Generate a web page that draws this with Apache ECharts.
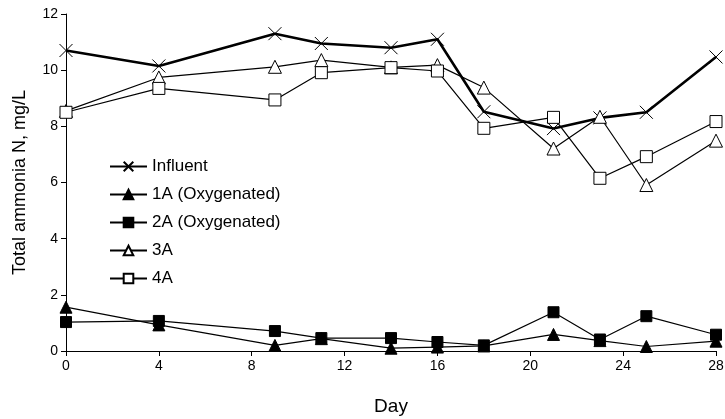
<!DOCTYPE html>
<html>
<head>
<meta charset="utf-8">
<script src="https://cdn.jsdelivr.net/npm/echarts@6/dist/echarts.min.js"></script>
<style>
  html, body { margin: 0; padding: 0; background: #fff; }
  #chart { width: 725px; height: 419px; }
</style>
</head>
<body>
<div id="chart"></div>
<script>
// days sampled
const days = [0, 4, 9, 11, 14, 16, 18, 21, 23, 25, 28]
const influent = [10.7, 10.15, 11.3, 10.95, 10.8, 11.1, 8.52, 7.92, 8.3, 8.5, 10.47]
const oxy1A = [1.56, 0.93, 0.2, 0.44, 0.1, 0.14, 0.18, 0.59, 0.37, 0.16, 0.35]
const oxy2A = [1.03, 1.07, 0.71, 0.46, 0.46, 0.32, 0.2, 1.38, 0.41, 1.24, 0.58]
const r3A = [8.55, 9.74, 10.12, 10.36, 10.1, 10.18, 9.38, 7.21, 8.34, 5.91, 7.49]
const r4A = [8.5, 9.35, 8.94, 9.91, 10.09, 9.97, 7.93, 8.32, 6.15, 6.92, 8.17]

const xTicks = [0, 4, 8, 12, 16, 20, 24, 28]
const yTicks = [0, 2, 4, 6, 8, 10, 12]

const pair = (ys) => days.map((d, i) => [d, ys[i]])

const crossPath = 'path://M0,0L10,10M10,0L0,10'
const fontFamily = '"Liberation Sans", Arial, sans-serif'
const narrow = '"Liberation Sans Narrow", "Arial Narrow", "Liberation Sans", sans-serif'

const chart = echarts.init(document.getElementById('chart'))

const mkSeries = (name, ys, symbol, size, fill, width) => ({
  name,
  type: 'line',
  data: pair(ys),
  symbol,
  symbolSize: size,
  showAllSymbol: true,
  animation: false,
  lineStyle: { color: '#000', width },
  itemStyle: { color: fill, borderColor: '#000', borderWidth: 1 },
  emphasis: { disabled: true }
})

chart.setOption({
  backgroundColor: '#fff',
  textStyle: { fontFamily },
  legend: {
    orient: 'vertical',
    left: 104,
    top: 153,
    itemGap: 11,
    itemWidth: 37,
    itemHeight: 12,
    textStyle: { fontFamily, fontSize: 17, color: '#000' },
    data: ['Influent', '1A (Oxygenated)', '2A (Oxygenated)', '3A', '4A']
  },
  grid: { left: 66, right: 9, top: 14, bottom: 68, outerBoundsMode: 'none', containLabel: false },
  xAxis: {
    type: 'value',
    min: 0,
    max: 28,
    interval: 4,
    name: 'Day',
    nameLocation: 'middle',
    nameGap: 46,
    nameTextStyle: { fontFamily, fontSize: 19, color: '#000' },
    axisLine: { lineStyle: { color: '#000', width: 1 } },
    axisTick: { show: true, length: 5, lineStyle: { color: '#000' } },
    axisLabel: {
      color: '#000', fontSize: 14, margin: 8, fontFamily: narrow,
      formatter: (v) => xTicks.includes(v) ? String(v) : ''
    },
    splitLine: { show: false }
  },
  yAxis: {
    type: 'value',
    min: 0,
    max: 12,
    interval: 2,
    name: 'Total ammonia N, mg/L',
    nameLocation: 'middle',
    nameGap: 37,
    nameRotate: 90,
    nameTextStyle: { fontFamily, fontSize: 18, color: '#000' },
    axisLine: { show: true, lineStyle: { color: '#000', width: 1 } },
    axisTick: { show: true, length: 5, lineStyle: { color: '#000' } },
    axisLabel: {
      color: '#000', fontSize: 14, margin: 8, fontFamily: narrow,
      formatter: (v) => yTicks.includes(v) ? String(v) : ''
    },
    splitLine: { show: false }
  },
  series: [
    mkSeries('Influent', influent, crossPath, 13, 'none', 2.6),
    mkSeries('1A (Oxygenated)', oxy1A, 'triangle', 12, '#000', 1.2),
    mkSeries('2A (Oxygenated)', oxy2A, 'rect', 11, '#000', 1.2),
    mkSeries('3A', r3A, 'triangle', 13, '#fff', 1.2),
    mkSeries('4A', r4A, 'rect', 12, '#fff', 1.2)
  ]
})
</script>
</body>
</html>
